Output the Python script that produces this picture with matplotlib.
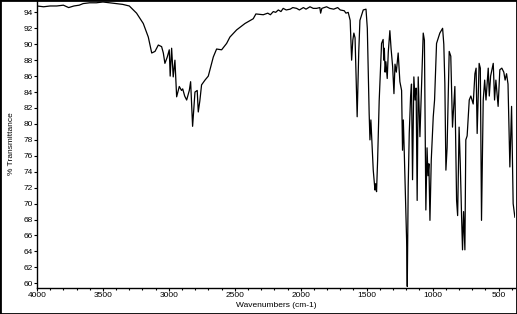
import matplotlib
matplotlib.use("Agg")
import matplotlib.pyplot as plt
from matplotlib.patches import Rectangle
from matplotlib.ticker import MultipleLocator

# IR spectrum (wavenumber in cm-1, % transmittance)
wavenumbers = [
    4000, 3950, 3900, 3850, 3800, 3760, 3720, 3680, 3650, 3600, 3550, 3500,
    3450, 3400, 3350, 3300, 3245, 3194, 3156, 3130, 3105, 3080, 3055, 3042,
    3030, 3012, 2997, 2990, 2979, 2967, 2954, 2941, 2921, 2904, 2895, 2880,
    2865, 2845, 2835, 2820, 2802, 2785, 2777, 2765, 2752, 2726, 2701, 2663,
    2638, 2600, 2562, 2537, 2486, 2423, 2360, 2340, 2284, 2250, 2230, 2208,
    2190, 2170, 2150, 2133, 2110, 2080, 2060, 2031, 2010, 1980, 1960, 1930,
    1905, 1880, 1855, 1849, 1840, 1804, 1780, 1750, 1720, 1700, 1670, 1657,
    1640, 1625, 1614, 1605, 1597, 1588, 1572, 1560, 1551, 1526, 1505, 1495,
    1481, 1475, 1468, 1450, 1437, 1432, 1425, 1417, 1405, 1387, 1375, 1370,
    1366, 1360, 1354, 1344, 1336, 1324, 1315, 1303, 1293, 1285, 1275, 1261,
    1248, 1235, 1228, 1222, 1214, 1197, 1192, 1185, 1177, 1167, 1160, 1152,
    1142, 1133, 1125, 1117, 1109, 1096, 1085, 1071, 1062, 1051, 1042, 1035,
    1028, 1020, 1010, 995, 985, 970, 945, 924, 915, 907, 899, 890,
    874, 862, 849, 831, 818, 810, 799, 790, 780, 773, 765, 755,
    748, 738, 722, 710, 692, 679, 670, 662, 647, 638, 629, 616,
    605, 595, 578, 570, 560, 540, 530, 520, 503, 490, 475, 460,
    450, 439, 428, 414, 401, 389, 376,
]
transmittance = [
    94.8, 94.7, 94.8, 94.8, 94.9, 94.6, 94.8, 94.9, 95.1, 95.2, 95.2, 95.3,
    95.2, 95.1, 95.0, 94.8, 93.9, 92.6, 90.9, 88.9, 89.1, 89.9, 89.7, 88.9,
    87.6, 88.4, 89.3, 86.0, 89.5, 85.9, 88.0, 83.4, 84.7, 84.2, 84.4, 83.5,
    83.0, 84.2, 85.3, 79.7, 84.0, 84.2, 81.5, 82.9, 84.9, 85.5, 86.0, 88.4,
    89.4, 89.3, 90.1, 90.9, 91.8, 92.6, 93.2, 93.8, 93.7, 93.9, 93.7, 94.1,
    94.0, 94.3, 94.1, 94.5, 94.3, 94.4, 94.6, 94.5, 94.3, 94.6, 94.4, 94.7,
    94.5, 94.5, 94.6, 93.9, 94.5, 94.7, 94.5, 94.4, 94.6, 94.3, 94.2, 93.9,
    94.0, 93.0, 88.0, 90.5, 91.4, 90.8, 80.9, 89.0, 93.0, 94.3, 94.4, 92.0,
    81.3, 78.0, 80.5, 74.2, 71.7, 72.5, 71.5, 75.4, 82.9, 90.1, 90.6, 88.0,
    89.5, 86.5, 87.8, 85.7, 89.0, 91.7, 89.5, 87.2, 83.8, 87.5, 86.5, 88.9,
    85.3, 84.2, 76.7, 80.5, 76.0, 65.4, 59.6, 72.1, 78.8, 83.4, 85.0, 73.0,
    85.9, 83.0, 84.5, 70.4, 85.9, 78.4, 84.0, 91.4, 90.5, 69.2, 77.0, 73.5,
    75.0, 67.9, 75.5, 80.9, 83.0, 90.1, 91.4, 92.0, 90.0, 85.1, 74.2, 77.0,
    89.1, 88.5, 79.6, 84.7, 70.4, 68.5, 79.6, 75.0, 68.3, 64.2, 69.0, 64.2,
    78.0, 78.5, 83.0, 83.5, 82.5, 86.3, 87.0, 78.8, 87.6, 87.0, 67.9, 83.0,
    85.5, 83.0, 87.0, 83.5, 86.0, 87.6, 83.0, 85.5, 82.2, 86.8, 87.0, 86.5,
    85.5, 86.3, 85.0, 74.6, 82.2, 70.0, 68.3,
]
x_ticks = [4000, 3500, 3000, 2500, 2000, 1500, 1000, 500]
y_ticks = list(range(60, 96, 2))

plt.rcParams['font.family'] = ['Liberation Sans', 'DejaVu Sans']

fig = plt.figure(figsize=(5.17, 3.14), dpi=100)
ax = fig.add_axes([37 / 517, 26.3 / 314, 478 / 517, 287.7 / 314])

ax.plot(wavenumbers, transmittance, color='black', lw=0.9)

ax.set_xlim(4000, 375)
ax.set_ylim(59.45, 95.55)
ax.set_xticks(x_ticks)
ax.set_yticks(y_ticks)
ax.xaxis.set_minor_locator(MultipleLocator(100))

ax.tick_params(axis='both', which='major', labelsize=6, length=2.2, width=0.8, pad=1)
ax.tick_params(axis='x', which='minor', length=1.5, width=0.8)
ax.spines['top'].set_visible(False)
ax.spines['right'].set_visible(False)
ax.spines['left'].set_linewidth(1.0)
ax.spines['bottom'].set_linewidth(1.0)

ax.set_xlabel('Wavenumbers (cm-1)', fontsize=6, labelpad=2)
ax.set_ylabel('% Transmittance', fontsize=6, labelpad=6)

# frame round the whole picture
fig.add_artist(Rectangle((0, 0), 1, 1, transform=fig.transFigure,
                         fill=False, edgecolor='black', lw=2))

fig.savefig('out.png', dpi=100)
